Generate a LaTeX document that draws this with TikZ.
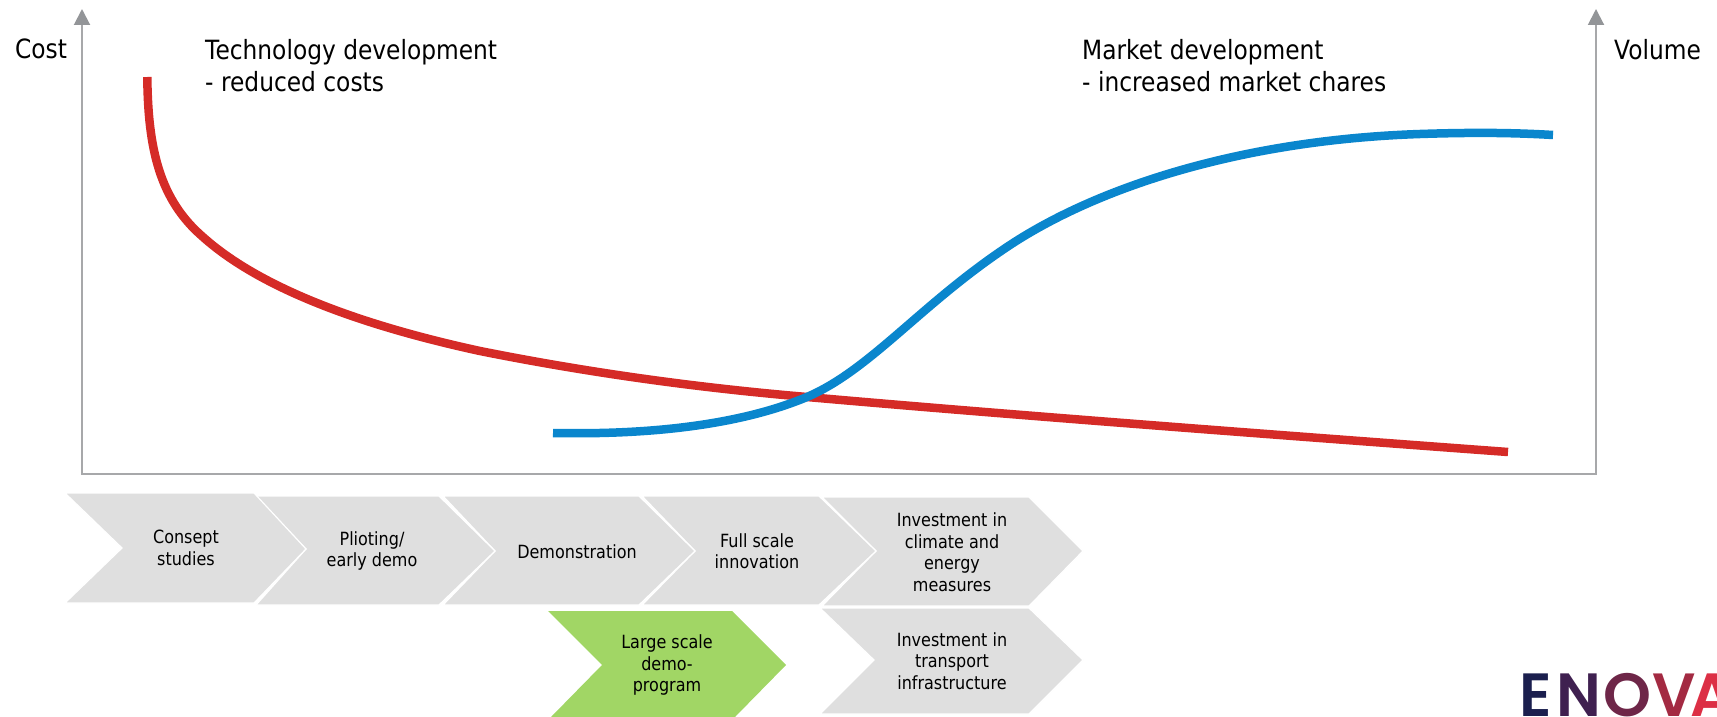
\documentclass[tikz,border=0pt]{standalone}
\usepackage{fontspec}
\setmainfont{DejaVu Sans}[FakeStretch=0.88]
\newfontfamily\logofont{Poppins SemiBold}
\usetikzlibrary{arrows.meta}
\definecolor{axisgray}{HTML}{A7A8AA}
\definecolor{headgray}{HTML}{939598}
\definecolor{chevgray}{HTML}{DFDFDF}
\definecolor{chevgreen}{HTML}{A1D665}
\definecolor{curvered}{HTML}{D52B27}
\definecolor{curveblue}{HTML}{0A86CD}
\definecolor{logoE}{HTML}{1B1F4E}
\definecolor{logoN}{HTML}{3F2050}
\definecolor{logoO}{HTML}{6E2648}
\definecolor{logoV}{HTML}{A32A42}
\definecolor{logoA}{HTML}{DC2F45}
\tikzset{
  x=1pt,y=-1pt,
  chev/.style={fill=chevgray,draw=white,line width=1.2pt,line join=miter},
  chevg/.style={fill=chevgreen},
  lab/.style={font=\fontsize{18.2}{21.5}\selectfont,align=center,inner sep=0pt,text=black},
  biglab/.style={font=\fontsize{26.5}{32}\selectfont,align=left,inner sep=0pt,anchor=north west,text=black},
  curve/.style={line width=8.5pt,line cap=butt,line join=round},
  axisline/.style={draw=axisgray,line width=2pt},
  logo/.style={font=\logofont\fontsize{61}{61}\selectfont,inner sep=0pt,anchor=base west}
}
\begin{document}
\begin{tikzpicture}
\useasboundingbox (0,0) rectangle (1717,717);
\clip (0,0) rectangle (1717,717);
% axes
\coordinate (tl) at (82,9);
\coordinate (bl) at (82,474);
\coordinate (br) at (1596,474);
\coordinate (tr) at (1596,9);
\draw[axisline,{Triangle[length=16pt,width=16pt,fill=headgray,color=headgray]}-{Triangle[length=16pt,width=16pt,fill=headgray,color=headgray]}] (tl) -- (bl) -- (br) -- (tr);
% curves
\draw[curve,curvered] (147.3,77) .. controls (148,150) and (160,200) .. (203,237)
  .. controls (260,288) and (360,325) .. (480,351)
  .. controls (590,373) and (700,388) .. (807,397)
  .. controls (1000,414) and (1250,433) .. (1508,452);
\draw[curve,curveblue] (553,433) .. controls (650,435) and (740,425) .. (807,397)
  .. controls (870,370) and (920,305) .. (1007,247)
  .. controls (1095,188) and (1240,140) .. (1420,134)
  .. controls (1480,132) and (1520,133) .. (1553,135);
% chevrons
\path[chev] (822,497) -- (1029,497) -- (1083,551) -- (1029,606) -- (822,606) -- (876,551) -- cycle;
\path[chev] (642,496) -- (819,496) -- (876,551) -- (819,605) -- (642,605) -- (695,551) -- cycle;
\path[chev] (443,496) -- (639,496) -- (695,551) -- (639,605) -- (443,605) -- (495,551) -- cycle;
\path[chev] (256,496) -- (439,496) -- (495,551) -- (439,605) -- (256,605) -- (306,549) -- cycle;
\path[chev] (65,493) -- (254,493) -- (306,549) -- (254,603) -- (65,603) -- (122,548) -- cycle;
\path[chevg] (548,611) -- (732,611) -- (786,665) -- (735,717) -- (551,717) -- (602,665) -- cycle;
\path[chev] (820,608) -- (1029,608) -- (1083,660) -- (1029,714) -- (820,714) -- (874,660) -- cycle;
% chevron labels
\node[lab] (c1) at (186,548) {Consept\\studies};
\node[lab] (c2) at (372,551) {Plioting/\\early demo};
\node[lab] (c3) at (577,552) {Demonstration};
\node[lab] (c4) at (757,551) {Full scale\\innovation};
\node[lab] (c5) at (952,552) {Investment in\\climate and\\energy\\measures};
\node[lab] (c6) at (667,665) {Large scale\\demo-\\program};
\node[lab] (c7) at (952,661) {Investment in\\transport\\infrastructure};
% big labels
\node[biglab] (cost) at (15,39) {Cost};
\node[biglab] (tech) at (205,39) {Technology development\\- reduced costs};
\node[biglab] (market) at (1082,39) {Market development\\- increased market chares};
\node[biglab] (vol) at (1614,39) {Volume};
% logo
\node[logo,text=logoE] (lE) at (1519,716) {E};
\node[logo,text=logoN] (lN) at (1556,716) {N};
\node[logo,text=logoO] (lO) at (1603,716) {O};
\node[logo,text=logoV] (lV) at (1652,716) {V};
\node[logo,text=logoA] (lA) at (1690,716) {A};
\end{tikzpicture}
\end{document}
